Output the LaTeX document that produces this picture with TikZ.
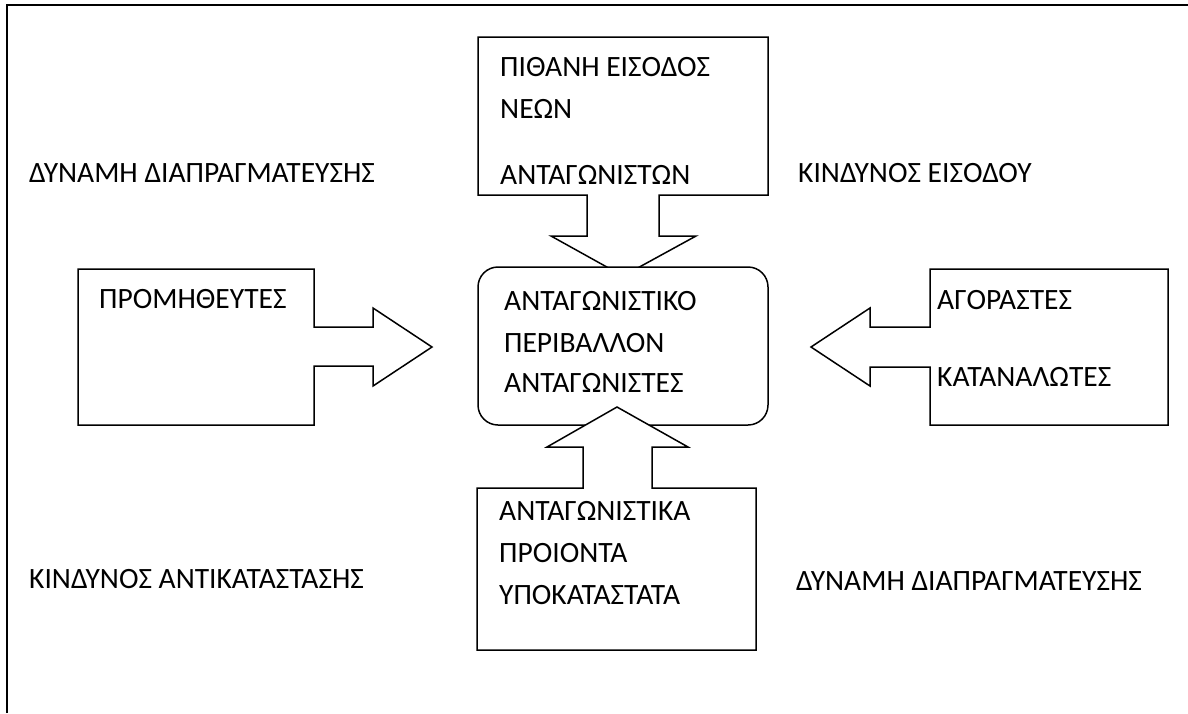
\documentclass[tikz,border=0pt]{standalone}
\usepackage{fontspec}
\setmainfont{Carlito}
\begin{document}
\begin{tikzpicture}[x=1pt,y=-1pt,
  lbl/.style={anchor=base west, inner sep=0pt, font=\fontsize{29.5}{34}\selectfont},
  shapeline/.style={draw=black, line width=1.5pt, line join=miter, fill=white},
  frameline/.style={draw=black, line width=2.2pt}]
\useasboundingbox (0,0) rectangle (1188,713);
% frame
\draw[frameline] (7,713) -- (7,5) -- (1188,5);
% top callout: new entrants
\draw[shapeline] (478,37) -- (768,37) -- (768,195) -- (659,195) -- (659,236) -- (696,236)
  -- (623,276) -- (551,236) -- (587,236) -- (587,195) -- (478,195) -- cycle;
% central rounded box
\draw[shapeline, rounded corners=20pt] (478,267) rectangle (768,425);
% bottom callout: substitutes
\draw[shapeline] (477,650) -- (756,650) -- (756,488) -- (652,488) -- (652,447) -- (688,447)
  -- (617,407) -- (547,447) -- (583,447) -- (583,488) -- (477,488) -- cycle;
% left callout: suppliers
\draw[shapeline] (78,269) -- (314,269) -- (314,327) -- (373,327) -- (373,308) -- (432,347)
  -- (373,386) -- (373,366) -- (314,366) -- (314,425) -- (78,425) -- cycle;
% right callout: buyers
\draw[shapeline] (1168,269) -- (930,269) -- (930,327) -- (870,327) -- (870,308) -- (811,347)
  -- (870,386) -- (870,367) -- (930,367) -- (930,425) -- (1168,425) -- cycle;
% labels
\node[lbl] (tl) at (29,182.5) {ΔΥΝΑΜΗ ΔΙΑΠΡΑΓΜΑΤΕΥΣΗΣ};
\node[lbl] (tr) at (798,182.5) {ΚΙΝΔΥΝΟΣ ΕΙΣΟΔΟΥ};
\node[lbl] (bl) at (29,588.5) {ΚΙΝΔΥΝΟΣ ΑΝΤΙΚΑΤΑΣΤΑΣΗΣ};
\node[lbl] (br) at (796,590) {ΔΥΝΑΜΗ ΔΙΑΠΡΑΓΜΑΤΕΥΣΗΣ};
\node[lbl] (n1) at (500,76.5) {ΠΙΘΑΝΗ ΕΙΣΟΔΟΣ};
\node[lbl] (n2) at (500,118.5) {ΝΕΩΝ};
\node[lbl] (n3) at (500,184.5) {ΑΝΤΑΓΩΝΙΣΤΩΝ};
\node[lbl] (c1) at (504,310.5) {ΑΝΤΑΓΩΝΙΣΤΙΚΟ};
\node[lbl] (c2) at (504,352.5) {ΠΕΡΙΒΑΛΛΟΝ};
\node[lbl] (c3) at (504,392.5) {ΑΝΤΑΓΩΝΙΣΤΕΣ};
\node[lbl] (s1) at (99,308.5) {ΠΡΟΜΗΘΕΥΤΕΣ};
\node[lbl] (b1) at (937,309.5) {ΑΓΟΡΑΣΤΕΣ};
\node[lbl] (b2) at (937,386.5) {ΚΑΤΑΝΑΛΩΤΕΣ};
\node[lbl] (p1) at (499,520.5) {ΑΝΤΑΓΩΝΙΣΤΙΚΑ};
\node[lbl] (p2) at (499,562.5) {ΠΡΟΙΟΝΤΑ};
\node[lbl] (p3) at (499,604.5) {ΥΠΟΚΑΤΑΣΤΑΤΑ};
\end{tikzpicture}
\end{document}
